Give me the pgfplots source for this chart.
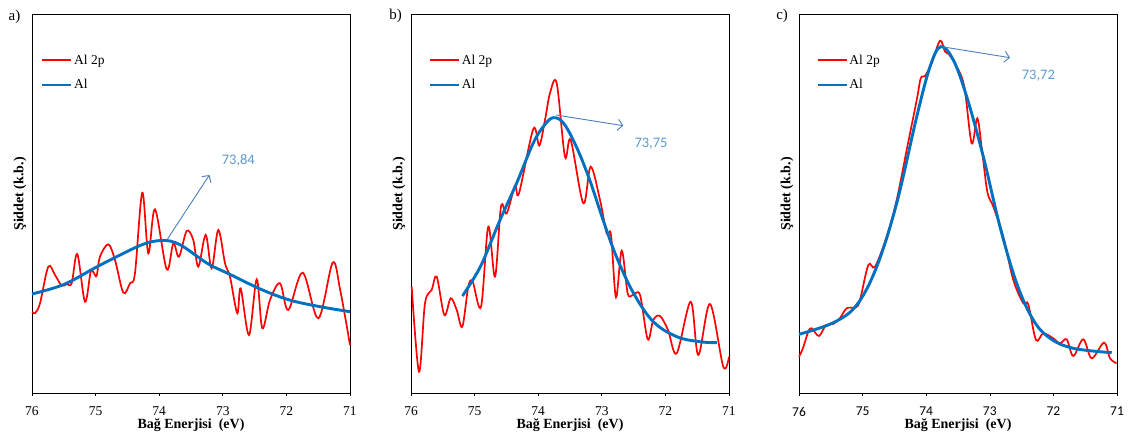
\documentclass[border=0pt]{standalone}
\usepackage{fontspec}
\setmainfont{Liberation Serif}
\newfontfamily\carlito{Carlito}
\usepackage{pgfplots}
\pgfplotsset{compat=1.18}
\usetikzlibrary{arrows.meta}
\definecolor{redline}{RGB}{255,0,0}
\definecolor{fitblue}{RGB}{0,112,192}
\definecolor{arrowblue}{RGB}{74,126,187}
\definecolor{txtblue}{RGB}{91,155,213}

\pgfplotsset{
  legend image code/.code={\draw[#1] (0pt,0pt) -- (29pt,0pt);},
  panel/.style={
    scale only axis, width=318pt, height=379pt, clip=false,
    xmin=71, xmax=76, x dir=reverse, ymin=0, ymax=379,
    xtick={71,72,73,74,75,76}, ytick=\empty,
    tick align=outside, xtick pos=left, major tick length=3pt,
    axis line style={line width=0.8pt},
    every tick/.style={black, line width=0.6pt},
    /pgf/number format/assume math mode=true,
    xticklabel style={font=\fontsize{13.5}{13.5}\selectfont, anchor=center, yshift=-15.5pt},
    xlabel={\textbf{Bağ Enerjisi~ (eV)}},
    xlabel style={at={(axis description cs:0.5,0)}, anchor=center, yshift=-32pt, font=\fontsize{14}{14}\selectfont},
    ylabel={\textbf{Şiddet (k.b.)}},
    ylabel style={at={(axis description cs:-0.038,0.525)}, anchor=center, font=\fontsize{14}{14}\selectfont},
    legend style={draw=none, fill=none, inner sep=0pt, font=\fontsize{13.5}{13.5}\selectfont,
      nodes={inner sep=1.5pt}, row sep=11pt, anchor=north west},
    legend cell align=left,
    red/.style={redline, line width=1.7pt, smooth, tension=0.55},
    fit/.style={fitblue, line width=2.9pt, smooth, tension=0.6},
  },
}

\begin{document}
\begin{tikzpicture}
\path[use as bounding box] (0pt,0pt) rectangle (1130pt,438pt);

% ---------------- panel a ----------------
\begin{axis}[panel, at={(32pt,45pt)}, anchor=south west,
  legend style={at={(axis description cs:0.027,0.897)}}]
\addplot[red] table {
x y
75.995 81.3
75.953 79.7
75.874 89.7
75.744 126.3
75.638 118
75.533 107.3
75.454 109
75.376 109.7
75.288 139
75.167 91.3
75.077 121.3
75.025 119.7
74.983 117.3
74.931 136.3
74.800 148.7
74.695 133
74.564 100.3
74.459 109.7
74.381 119.7
74.266 200.3
74.171 139.7
74.066 183.7
73.882 123.7
73.778 149.7
73.689 136.3
73.568 162
73.464 153
73.385 126.3
73.269 158
73.175 124.7
73.071 163
72.965 129.7
72.887 116.3
72.772 79.7
72.719 104.7
72.588 58
72.467 113.7
72.379 64.7
72.258 93
72.101 109.7
71.970 83
71.744 120.3
71.498 74.7
71.272 130.3
71.154 103
71.000 48
};
\addlegendentry{Al 2p}
\addplot[fit] table {
x y
76.0 99
75.5 108.5
75.0 125.5
74.6 138.5
74.3 147.5
74.1 151.5
73.9 152.5
73.75 150.5
73.6 145.5
73.4 136.5
73.2 128
72.9 119
72.4 103.7
71.95 93
71.47 86.3
71.0 81.3
};
\addlegendentry{Al}
\draw[arrowblue, line width=0.9pt, -{Straight Barb[length=5pt,width=11pt]}]
  (axis cs:73.88,153) -- (axis cs:73.21,218);
\node[txtblue, font=\carlito\fontsize{14.5}{14.5}\selectfont] at (axis cs:72.756,232.3) {73,84};
\node[font=\fontsize{15}{15}\selectfont] at (axis description cs:-0.055,0.992) {a)};
\end{axis}

% ---------------- panel b ----------------
\begin{axis}[panel, at={(411pt,45pt)}, anchor=south west,
  legend style={at={(axis description cs:0.054,0.897)}}]
\addplot[red] table {
x y
75.989 106.3
75.874 21.3
75.780 89.7
75.675 103
75.596 116.3
75.476 78
75.376 94.7
75.281 83
75.193 66.3
75.099 106.3
75.030 111.3
74.899 86.3
74.785 166.3
74.679 116.3
74.585 186.3
74.495 179.7
74.365 207
74.302 199.7
74.077 264
73.983 247.5
73.893 273
73.814 300
73.709 309.7
73.579 236.3
73.489 253
73.291 189.7
73.175 226.3
73.028 193
72.923 159.7
72.855 158
72.777 95.7
72.687 142.3
72.593 99.7
72.509 98
72.399 98
72.278 53.7
72.190 73
72.085 77
71.959 63
71.822 39.7
71.602 91.3
71.483 38
71.299 89
71.090 26.3
71.000 36.3
};
\addlegendentry{Al 2p}
\addplot[fit] table {
x y
75.19 97
75.0 116
74.86 133
74.6 173
74.34 209.7
74.08 249.7
73.9 268
73.76 275.3
73.6 269.7
73.4 246.3
73.19 213
72.98 173
72.77 136.3
72.5 99.7
72.19 71.3
71.82 56.3
71.46 51.3
71.19 50.3
};
\addlegendentry{Al}
\draw[arrowblue, line width=0.9pt, -{Straight Barb[length=5pt,width=11pt]}]
  (axis cs:73.72,278) -- (axis cs:72.662,267.3);
\node[txtblue, font=\carlito\fontsize{14.5}{14.5}\selectfont] at (axis cs:72.226,249.7) {73,75};
\node[font=\fontsize{15}{15}\selectfont] at (axis description cs:-0.048,0.995) {b)};
\end{axis}

% ---------------- panel c ----------------
\begin{axis}[panel, at={(799pt,45pt)}, anchor=south west,
  xticklabel style={font=\carlito\fontsize{13.5}{13.5}\selectfont},
  legend style={at={(axis description cs:0.053,0.897)}}]
\addplot[red] table {
x y
76.0 36.3
75.937 45
75.854 61.3
75.800 64.7
75.686 57
75.575 68
75.461 69
75.355 75
75.250 84.7
75.104 85.7
75.041 93
74.910 128
74.805 126.3
74.621 156.3
74.464 193
74.307 243
74.149 293
74.086 314.7
74.019 317
73.914 329.7
73.783 352.3
73.704 341.3
73.642 338.7
73.520 326.3
73.401 306.3
73.285 249.7
73.197 274.7
73.123 243
73.039 201.3
72.945 186.3
72.788 156.3
72.630 113
72.473 89.7
72.395 88.7
72.274 53
72.159 59.7
72.002 54.7
71.896 49.7
71.791 53.7
71.687 37
71.530 53.7
71.398 34.7
71.204 50.3
71.110 34.7
71.005 29.7
};
\addlegendentry{Al 2p}
\addplot[fit] table {
x y
76.0 58.7
75.461 70.3
75.093 88
74.778 126.3
74.464 189.7
74.149 276.3
73.940 326.3
73.772 346.3
73.574 333
73.363 296.3
73.102 236.3
72.840 166.3
72.577 109.7
72.316 73
72.053 54.7
71.687 44.7
71.083 40.3
};
\addlegendentry{Al}
\draw[arrowblue, line width=0.9pt, -{Straight Barb[length=5pt,width=11pt]}]
  (axis cs:73.756,346.3) -- (axis cs:72.682,335.3);
\node[txtblue, font=\carlito\fontsize{14.5}{14.5}\selectfont] at (axis cs:72.237,317) {73,72};
\node[font=\fontsize{15}{15}\selectfont] at (axis description cs:-0.053,0.995) {c)};
\end{axis}
\end{tikzpicture}
\end{document}
